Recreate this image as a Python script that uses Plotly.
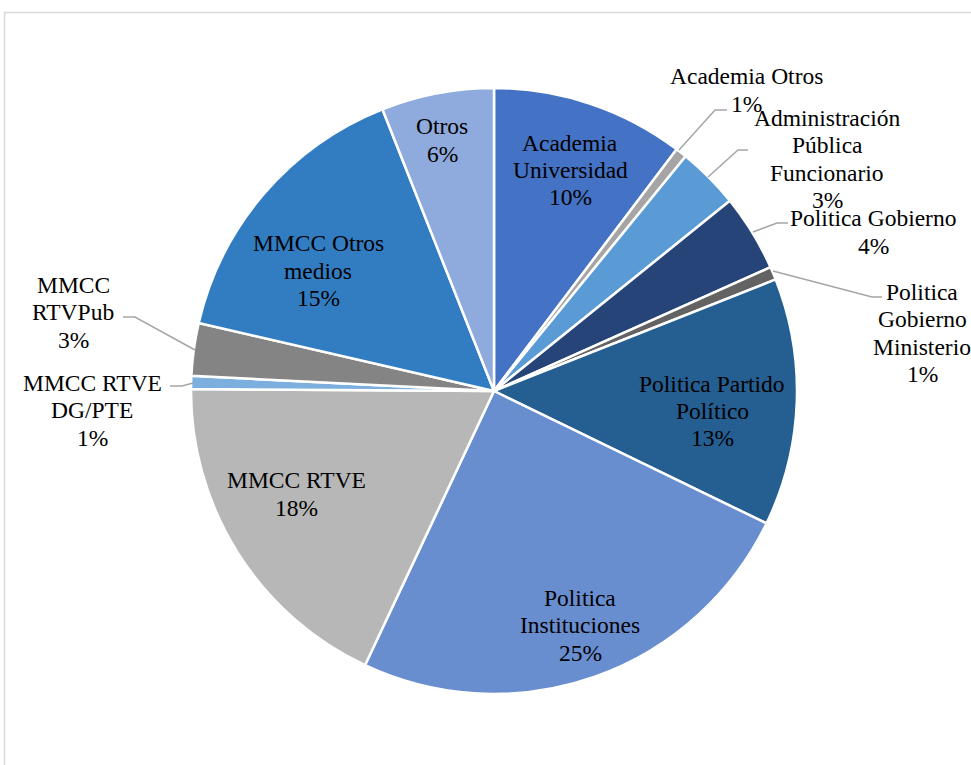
import plotly.graph_objects as go

# ---- data (clockwise from 12 o'clock) ----
labels = ["Academia Universidad", "Academia Otros", "Administración Pública Funcionario",
          "Politica Gobierno", "Politica Gobierno Ministerio", "Politica Partido Político",
          "Politica Instituciones", "MMCC RTVE", "MMCC RTVE DG/PTE", "MMCC RTVPub",
          "MMCC Otros medios", "Otros"]
values = [10.3, 0.6, 3.3, 4.1, 0.7, 13.2, 24.8, 18.1, 0.7, 2.8, 15.4, 6.0]
label_lines = [["Academia", "Universidad"], ["Academia Otros"], ["Administración", "Pública", "Funcionario"],
               ["Politica Gobierno"], ["Politica", "Gobierno", "Ministerio"], ["Politica Partido", "Político"],
               ["Politica", "Instituciones"], ["MMCC RTVE"], ["MMCC RTVE", "DG/PTE"], ["MMCC", "RTVPub"],
               ["MMCC Otros", "medios"], ["Otros"]]
colors = ["#4472C4", "#A5A5A5", "#5B9BD5", "#264478", "#636363", "#255E91",
          "#698ED0", "#B7B7B7", "#7CAFDD", "#848484", "#327DC2", "#8FAADC"]

# ---- layout helpers (pixel positions of label blocks and leader lines) ----
W, H = 971, 765
CX, CY, R = 494, 391, 303
label_pos = [(570, 170), (746, 90), (827, 159), (873, 232), (922, 333), (712, 411),
             (580, 625), (296, 494), (92, 410), (73, 312), (318, 271), (442, 140)]
leaders = {
    1: [(679, 150), (715, 110), (727, 110)],
    2: [(708, 177), (738, 150), (748, 150)],
    3: [(753, 232), (777, 223), (788, 223)],
    4: [(773, 271), (872, 297), (882, 297)],
    8: [(193, 383), (182, 386), (170, 386)],
    9: [(195, 350), (135, 317), (123, 317)],
}
LINE = 27.5
FAMILY = "Times New Roman, Liberation Serif, DejaVu Serif, serif"
FONT = dict(family=FAMILY, size=23.5, color="#000000")

def px(x):
    return x / W

def py(y):
    return 1 - y / H

total = sum(values)
pcts = ["%d%%" % round(v / total * 100) for v in values]

fig = go.Figure(go.Pie(
    labels=labels, values=values, sort=False, direction="clockwise", rotation=0,
    marker=dict(colors=colors, line=dict(color="#FFFFFF", width=2.5)),
    textinfo="none", hoverinfo="label+percent", showlegend=False,
    domain=dict(x=[px(CX - R), px(CX + R)], y=[py(CY + R), py(CY - R)]),
))

annotations = []
for i, lines in enumerate(label_lines):
    allines = lines + [pcts[i]]
    cx, cy = label_pos[i]
    n = len(allines)
    for j, t in enumerate(allines):
        ly = cy + (j - (n - 1) / 2) * LINE
        annotations.append(dict(x=px(cx), y=py(ly), xref="paper", yref="paper", text=t,
                                showarrow=False, xanchor="center", yanchor="middle", font=FONT))

shapes = []
for i, pts in leaders.items():
    path = "M " + " L ".join("%f,%f" % (px(x), py(y)) for x, y in pts)
    shapes.append(dict(type="path", path=path, xref="paper", yref="paper",
                       line=dict(color="#A6A6A6", width=1.5)))
# chart frame
shapes.append(dict(type="rect", xref="paper", yref="paper", x0=px(4.5), x1=1.05, y0=-0.05, y1=py(12.5),
                   line=dict(color="#D9D9D9", width=1.5), layer="below"))

fig.update_layout(width=W, height=H, margin=dict(l=0, r=0, t=0, b=0),
                  paper_bgcolor="#FFFFFF", plot_bgcolor="#FFFFFF",
                  font=dict(family=FAMILY),
                  annotations=annotations, shapes=shapes)
fig.write_html("out.html", config={"displayModeBar": False},
               post_script="document.body.style.margin='0';document.body.style.overflow='hidden';")
